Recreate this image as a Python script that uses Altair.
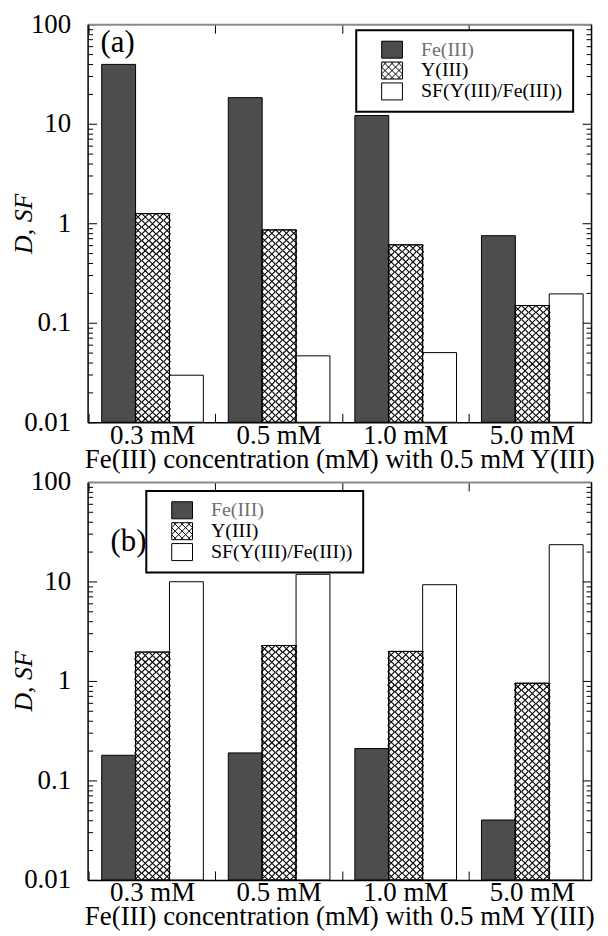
import math
import altair as alt
import pandas as pd

# ---------------- data ----------------
concentrations = ["0.3 mM", "0.5 mM", "1.0 mM", "5.0 mM"]
series_names = ["Fe(III)", "Y(III)", "SF(Y(III)/Fe(III))"]

a_fe = [39.5, 18.3, 12.1, 0.75]
a_y = [1.25, 0.857, 0.607, 0.149]
a_sf = [0.0297, 0.0465, 0.0501, 0.195]

b_fe = [0.179, 0.189, 0.209, 0.040]
b_y = [1.95, 2.27, 1.98, 0.948]
b_sf = [9.93, 11.8, 9.27, 23.4]

y_major = [0.01, 0.1, 1, 10, 100]
y_minor = [0.02, 0.03, 0.04, 0.05, 0.06, 0.07, 0.08, 0.09,
           0.2, 0.3, 0.4, 0.5, 0.6, 0.7, 0.8, 0.9,
           2, 3, 4, 5, 6, 7, 8, 9,
           20, 30, 40, 50, 60, 70, 80, 90]

x_title = "Fe(III) concentration (mM) with 0.5 mM Y(III)"
y_title = "D, SF"

# ---------------- style ----------------
FONT = "Liberation Serif"
FE_GRAY = "#4d4d4d"
W, H = 506, 400
CELL = 6.8            # crosshatch cell in px
PX_PER_DECADE = H / 4
SUB = 15              # sub-columns per category band (5 per bar)
MAJOR_TICK, MINOR_TICK, X_TICK = 9, 5, 9
BAND_POS = -0.1225    # ticks between the groups

x_scale = alt.Scale(domain=concentrations, paddingInner=0.197, paddingOuter=0.087, align=0.64)
off_scale = alt.Scale(domain=series_names, paddingInner=0, paddingOuter=0)
sub_domain = [str(i) for i in range(SUB)]
sub_scale = alt.Scale(domain=sub_domain, paddingInner=0, paddingOuter=0)
y_scale = alt.Scale(type="log", domain=[0.01, 100], nice=False)
fill_scale = alt.Scale(domain=series_names, range=[FE_GRAY, "white", "white"])

X_PATH = "M-1,-1L1,1M-1,1L1,-1"
RA, RB = 1.1, 0.9
RECT = f"M{-RA},{-RB}H{RA}V{RB}H{-RA}Z"


def legend_hatch_path(p=0.74):
    parts = [RECT]
    for k in range(-6, 7):
        c = k * p
        x0, x1 = max(-RA, -RB - c), min(RA, RB - c)
        if x1 - x0 > 1e-6:
            parts.append(f"M{x0:.3f},{x0 + c:.3f}L{x1:.3f},{x1 + c:.3f}")
        x0, x1 = max(-RA, c - RB), min(RA, c + RB)
        if x1 - x0 > 1e-6:
            parts.append(f"M{x0:.3f},{-x0 + c:.3f}L{x1:.3f},{-x1 + c:.3f}")
    return "".join(parts)


HATCH = legend_hatch_path()
SYMBOL_EXPR = f"datum.value === 'Y(III)' ? '{HATCH}' : '{RECT}'"
LABEL_COLOR_EXPR = "datum.value === 'Fe(III)' ? '#707070' : 'black'"


def long_table(fe, yv, sf):
    rows = []
    for i, c in enumerate(concentrations):
        for s, vals in zip(series_names, (fe, yv, sf)):
            rows.append({"conc": c, "series": s, "value": vals[i]})
    return pd.DataFrame(rows)


def hatch_table(yv):
    rows = []
    for c, v in zip(concentrations, yv):
        decades = math.log10(v) + 2
        n = max(1, round(decades * PX_PER_DECADE / CELL))
        step = decades / n
        for j in range(n):
            yc = 10 ** (-2 + (j + 0.5) * step)
            for k in range(5, 10):
                rows.append({"conc": c, "col": str(k), "yc": yc})
    return pd.DataFrame(rows)


def panel(fe, yv, sf, leg_x, leg_y, tag, tag_x, tag_y):
    df = long_table(fe, yv, sf)
    hatch = hatch_table(yv)
    base = alt.Chart(df)

    # bottom axis: labels + title + black baseline
    x_main = alt.Axis(orient="bottom", title=x_title, ticks=False, tickSize=0, labelAngle=0,
                      labelFont=FONT, labelFontSize=27, labelColor="black", labelPadding=0,
                      titleFont=FONT, titleFontSize=27, titleFontWeight="normal",
                      titleColor="black", titlePadding=-2, domainColor="black", domainWidth=1.5,
                      grid=False)
    # top axis: grey frame line + short inward ticks top & bottom (dashed grid)
    x_top = alt.Axis(orient="top", title=None, labels=False, ticks=False, domain=True,
                     domainColor="#8a8a8a", domainWidth=2, grid=True, gridColor="black",
                     gridOpacity=1, gridWidth=1, gridDash=[X_TICK, H - 2 * X_TICK],
                     bandPosition=BAND_POS)
    # left axis: labels, title, frame, inward major ticks on both sides
    y_labels = alt.Axis(orient="left", values=y_major, format="~g", ticks=False, tickSize=0,
                        labelFont=FONT, labelFontSize=27, labelColor="black", labelPadding=17,
                        labelOverlap=False, title=y_title, titleFont=FONT, titleFontStyle="italic",
                        titleFontWeight="normal", titleFontSize=26, titleColor="black",
                        titleAngle=270, titleX=-64, titleY=H / 2, titleAlign="center",
                        titleBaseline="middle", domainColor="black", domainWidth=1.5,
                        grid=True, gridColor="black", gridOpacity=1, gridWidth=1,
                        gridDash=[MAJOR_TICK, W - 2 * MAJOR_TICK])
    # right axis: frame + inward minor ticks on both sides
    y_right = alt.Axis(orient="right", values=y_minor, labels=False, ticks=False, title=None,
                       domain=True, domainColor="black", domainWidth=1.5,
                       grid=True, gridColor="black", gridOpacity=1, gridWidth=1,
                       gridDash=[MINOR_TICK, W - 2 * MINOR_TICK])

    legend = alt.Legend(orient="none", legendX=leg_x, legendY=leg_y, title=None,
                        fillColor="white", strokeColor="black", padding=10,
                        symbolOffset=16, labelOffset=19, symbolSize=19 * 19,
                        symbolType={"expr": SYMBOL_EXPR},
                        symbolStrokeWidth=1, symbolOpacity=1, clipHeight=19,
                        labelFont=FONT, labelFontSize=20, labelLimit=400, rowPadding=0,
                        labelColor={"expr": LABEL_COLOR_EXPR})

    bars = base.mark_bar(stroke="black", strokeWidth=1).encode(
        x=alt.X("conc:N", scale=x_scale, sort=concentrations, axis=x_main),
        xOffset=alt.XOffset("series:N", scale=off_scale, sort=series_names),
        y=alt.Y("value:Q", scale=y_scale, axis=y_labels),
        y2=alt.datum(0.01),
        fill=alt.Fill("series:N", scale=fill_scale, sort=series_names, legend=legend),
    )

    hatch_pts = alt.Chart(hatch).mark_point(
        shape=X_PATH, size=CELL * CELL, filled=False, color="black", stroke="black",
        strokeWidth=1.1, opacity=1
    ).encode(
        x=alt.X("conc:N", scale=x_scale, sort=concentrations, axis=x_top),
        xOffset=alt.XOffset("col:N", scale=sub_scale, sort=sub_domain),
        y=alt.Y("yc:Q", scale=y_scale, axis=y_right),
    )

    y_outline = base.transform_filter(alt.datum.series == "Y(III)").mark_bar(
        fill="white", fillOpacity=0, stroke="black", strokeWidth=1
    ).encode(
        x=alt.X("conc:N", scale=x_scale, sort=concentrations, axis=None),
        xOffset=alt.XOffset("series:N", scale=off_scale, sort=series_names),
        y=alt.Y("value:Q", scale=y_scale, axis=None),
        y2=alt.datum(0.01),
    )

    tag_text = alt.Chart(pd.DataFrame({"tag": [tag]})).mark_text(
        font=FONT, fontSize=31, align="left", baseline="alphabetic", color="black"
    ).encode(text="tag:N", x=alt.value(tag_x), y=alt.value(tag_y))

    return alt.layer(bars, hatch_pts, y_outline, tag_text).resolve_scale(
        xOffset="independent"
    ).resolve_axis(x="independent", y="independent").properties(width=W, height=H)


panel_a = panel(a_fe, a_y, a_sf, 270, 6, "(a)", 13, 28)
panel_b = panel(b_fe, b_y, b_sf, 59, 9, "(b)", 23, 69)

chart = alt.vconcat(panel_a, panel_b, spacing=60, bounds="flush").resolve_scale(
    fill="independent", xOffset="independent"
).resolve_legend(fill="independent").configure_view(
    stroke=None
).configure_legend(strokeWidth=2).properties(
    padding={"left": 3, "top": 0, "right": 5, "bottom": 0}
)

chart.save("out.html", embed_options={"renderer": "svg", "actions": False})
